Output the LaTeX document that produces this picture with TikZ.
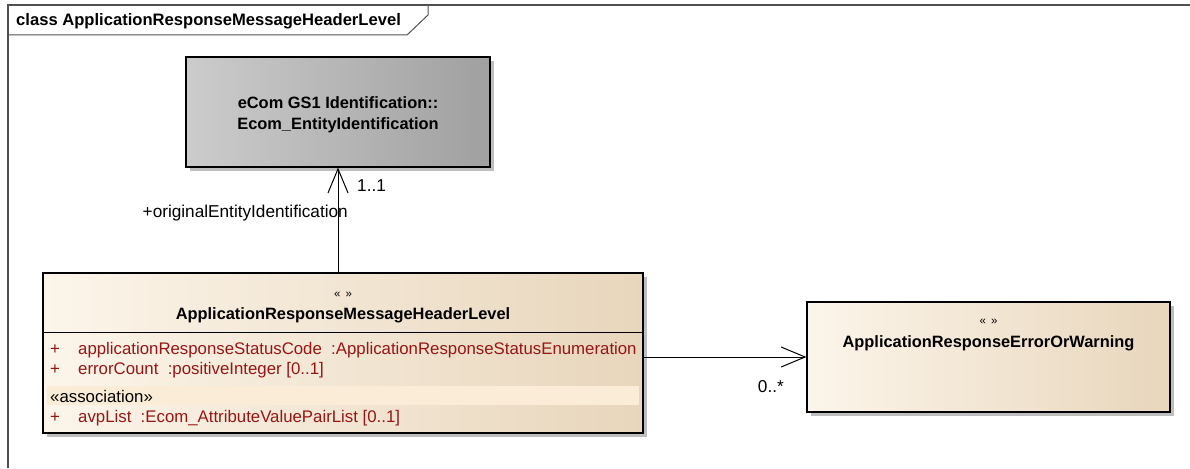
\documentclass[tikz,border=0pt]{standalone}
\usepackage{fontspec}
\setmainfont{Liberation Sans}
\usetikzlibrary{arrows.meta,shadows}
\definecolor{creamL}{RGB}{252,245,234}
\definecolor{creamR}{RGB}{232,214,188}
\definecolor{grayL}{RGB}{204,204,204}
\definecolor{grayR}{RGB}{160,160,160}
\definecolor{shadowc}{RGB}{190,190,190}
\definecolor{attrred}{RGB}{150,22,22}
\definecolor{bandc}{RGB}{250,236,214}
\definecolor{framec}{RGB}{80,80,80}
\tikzset{
  umlbox/.style={draw=black, line width=1.2pt, rectangle, inner sep=0pt,
    drop shadow={shadow xshift=4pt, shadow yshift=-4pt, fill=shadowc, opacity=1}},
  creambox/.style={umlbox, left color=creamL, right color=creamR},
  graybox/.style={umlbox, left color=grayL, right color=grayR},
  boldtxt/.style={font=\fontsize{16.4}{18}\selectfont\bfseries, inner sep=0pt},
  stereo/.style={font=\fontsize{11.5}{13}\selectfont, inner sep=0pt},
  attr/.style={font=\fontsize{16.8}{18}\selectfont, text=attrred, inner sep=0pt, anchor=west},
  lbl/.style={font=\fontsize{17.2}{19}\selectfont, inner sep=0pt},
  assoc/.style={line width=1pt, -{Straight Barb[length=24pt,width=20pt,line width=1pt]}}
}
\begin{document}
\begin{tikzpicture}[x=1pt,y=-1pt]
\useasboundingbox (0,0) rectangle (1190,468);
% frame
\draw[framec, line width=1.5pt] (8,468) -- (8,5) -- (1190,5);
\draw[framec, line width=1pt] (8,35) -- (407,35) -- (428,15) -- (428,5);
\node[font=\fontsize{16.6}{18}\selectfont\bfseries, anchor=west, inner sep=0pt] (title) at (16,21) {class ApplicationResponseMessageHeaderLevel};
% boxes
\node[graybox, minimum width=304pt, minimum height=110pt] (gray) at (338,112) {};
\node[creambox, minimum width=600pt, minimum height=160pt] (main) at (343,353) {};
\node[creambox, minimum width=363pt, minimum height=110pt] (err) at (988.5,357) {};
% gray box text
\node[boldtxt] (g1) at (338,103) {eCom GS1 Identification::};
\node[boldtxt] (g2) at (338,125) {Ecom\_EntityIdentification};
% main box text
\node[stereo] (ms) at (343,295) {« \,»};
\node[boldtxt] (mn) at (343,315) {ApplicationResponseMessageHeaderLevel};
\draw[line width=1pt] (main.west |- 0,332) -- (main.east |- 0,332);
\fill[bandc] (47,386) rectangle (639,405);
\node[attr] (p1) at (50,350) {+};
\node[attr] (a1) at (78,350) {applicationResponseStatusCode\ \ :ApplicationResponseStatusEnumeration};
\node[attr] (p2) at (50,370) {+};
\node[attr] (a2) at (78,370) {errorCount\ \ :positiveInteger [0..1]};
\node[attr, text=black] (as) at (50,396) {«association»};
\node[attr] (p3) at (50,418) {+};
\node[attr] (a3) at (78,418) {avpList\ \ :Ecom\_AttributeValuePairList [0..1]};
% error box text
\node[stereo] (es) at (988.5,322) {« \,»};
\node[boldtxt] (en) at (988.5,343) {ApplicationResponseErrorOrWarning};
% connectors
\draw[assoc] (main.north -| gray.south) -- (gray.south);
\draw[assoc] (main.east |- err.west) -- (err.west);
\node[lbl, anchor=west] (m1) at (357,186) {1..1};
\node[lbl, anchor=east] (r1) at (348,213) {+originalEntityIdentification};
\node[lbl, anchor=east] (m2) at (784,387) {0..*};
\end{tikzpicture}
\end{document}
